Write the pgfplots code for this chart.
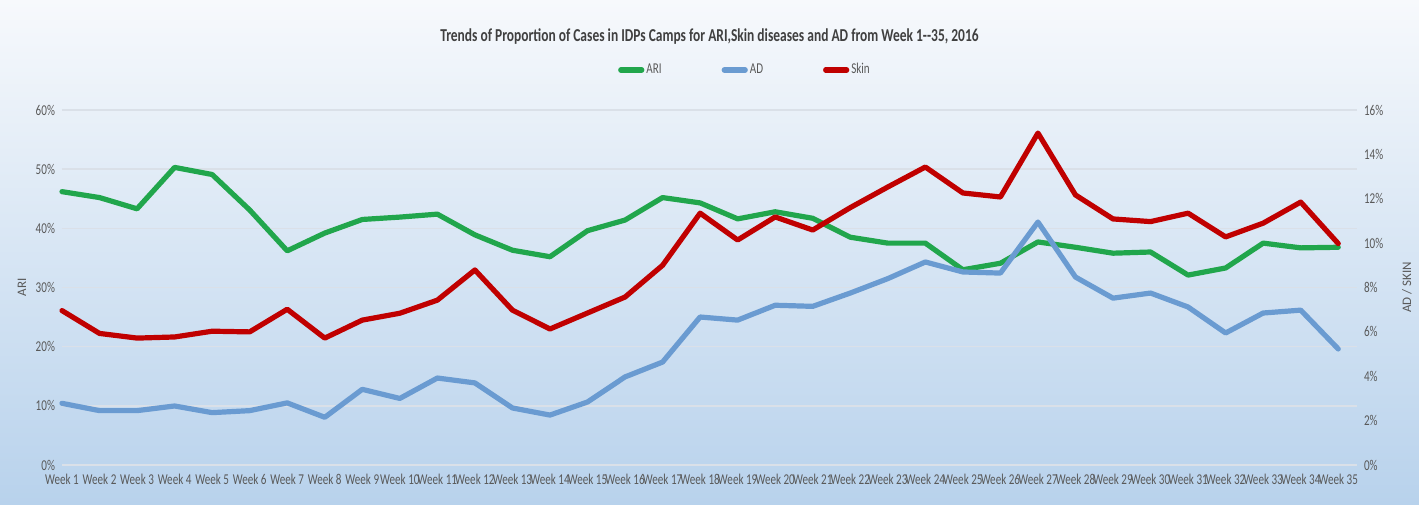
\documentclass[border=0pt]{standalone}
\usepackage{pgfplots}
\pgfplotsset{compat=1.18}
\usepackage{pgfplotstable}
\usepackage{fontspec}
\setmainfont{Carlito}
\newfontfamily\narrow[FakeStretch=0.74]{Carlito}

\definecolor{ari}{RGB}{33,166,76}
\definecolor{ad}{RGB}{106,155,209}
\definecolor{skin}{RGB}{192,0,0}
\definecolor{bgtop}{RGB}{247,249,252}
\definecolor{bgbot}{RGB}{184,210,236}
\definecolor{gridc}{RGB}{218,224,232}
\definecolor{txt}{RGB}{89,89,89}

% weekly proportions, ARI in % (left axis), AD and Skin in % (right axis)
\pgfplotstableread{
week ari ad skin
1 46.2 2.78 6.96
2 45.2 2.45 5.93
3 43.3 2.45 5.72
4 50.3 2.66 5.77
5 49.1 2.36 6.03
6 43.1 2.45 6.00
7 36.2 2.80 7.02
8 39.2 2.15 5.72
9 41.5 3.41 6.53
10 41.9 3.00 6.84
11 42.4 3.92 7.43
12 38.9 3.70 8.79
13 36.3 2.57 6.98
14 35.2 2.25 6.13
15 39.6 2.84 6.85
16 41.4 3.97 7.57
17 45.2 4.64 9.00
18 44.3 6.67 11.35
19 41.6 6.53 10.14
20 42.8 7.20 11.18
21 41.7 7.15 10.59
22 38.5 7.75 11.60
23 37.5 8.40 12.53
24 37.5 9.15 13.43
25 33.0 8.70 12.26
26 34.1 8.65 12.08
27 37.7 10.95 14.96
28 36.8 8.47 12.17
29 35.8 7.52 11.09
30 36.0 7.75 10.97
31 32.1 7.12 11.35
32 33.3 5.95 10.28
33 37.5 6.85 10.90
34 36.7 6.98 11.85
35 36.8 5.23 9.98
}\data

\begin{document}
\begin{tikzpicture}
\shade[top color=bgtop, bottom color=bgbot] (0,0) rectangle (709.5pt,252pt);

\pgfplotsset{
  base/.style={
    at={(31pt,19.5pt)}, anchor=south west,
    scale only axis, width=647.5pt, height=177.5pt,
    xmin=1, xmax=35.5,
    axis line style={draw=none},
    major tick length=0pt,
    ticklabel style={font=\narrow\fontsize{7.5}{8}\selectfont, text=txt},
    label style={font=\fontsize{6.5}{7}\selectfont, text=txt},
    /pgf/number format/assume math mode=true,
    clip=false,
  },
  series/.style={line width=2.6pt, line join=round, line cap=round},
}

\begin{axis}[base,
  ymin=0, ymax=60,
  ytick={0,10,...,60},
  yticklabel={\pgfmathprintnumber{\tick}\%},
  xtick={1,...,35},
  xticklabel={Week \pgfmathprintnumber{\tick}},
  xticklabel style={yshift=-0.8pt},
  ymajorgrids, grid style={gridc, line width=0.7pt},
  ylabel={ARI},
  ylabel style={at={(axis description cs:-0.031,0.5)}, anchor=center},
  legend style={draw=none, fill=none,
    at={(axis description cs:0.5274,1.1127)}, anchor=center,
    legend columns=-1, font=\narrow\fontsize{7.5}{8}\selectfont, text=txt,
    nodes={inner sep=1pt},
    /tikz/every even column/.append style={column sep=29pt}},
  legend image code/.code={\draw[#1] (0pt,0pt) -- (10.5pt,0pt);},
]
\addplot[series, ari] table[x=week, y=ari] {\data};
\addlegendentry{ARI}
\addlegendimage{series, ad}
\addlegendentry{AD}
\addlegendimage{series, skin}
\addlegendentry{Skin}
\end{axis}

\begin{axis}[base,
  axis x line=none,
  ymin=0, ymax=16,
  ytick={0,2,...,16},
  yticklabel pos=right,
  yticklabel={\pgfmathprintnumber{\tick}\%},
  ylabel={AD / SKIN},
  ylabel style={at={(axis description cs:1.0386,0.5)}, anchor=center, rotate=0},
]
\addplot[series, ad] table[x=week, y=ad] {\data};
\addplot[series, skin] table[x=week, y=skin] {\data};
\end{axis}

\node[font=\narrow\bfseries\fontsize{9.1}{11}\selectfont, text=black!75]
  at (354.75pt,233.5pt) {Trends of Proportion of Cases in IDPs Camps for ARI,Skin diseases and AD from Week 1--35, 2016};

\pgfresetboundingbox
\path (0,0) rectangle (709.5pt,252pt);
\end{tikzpicture}
\end{document}
